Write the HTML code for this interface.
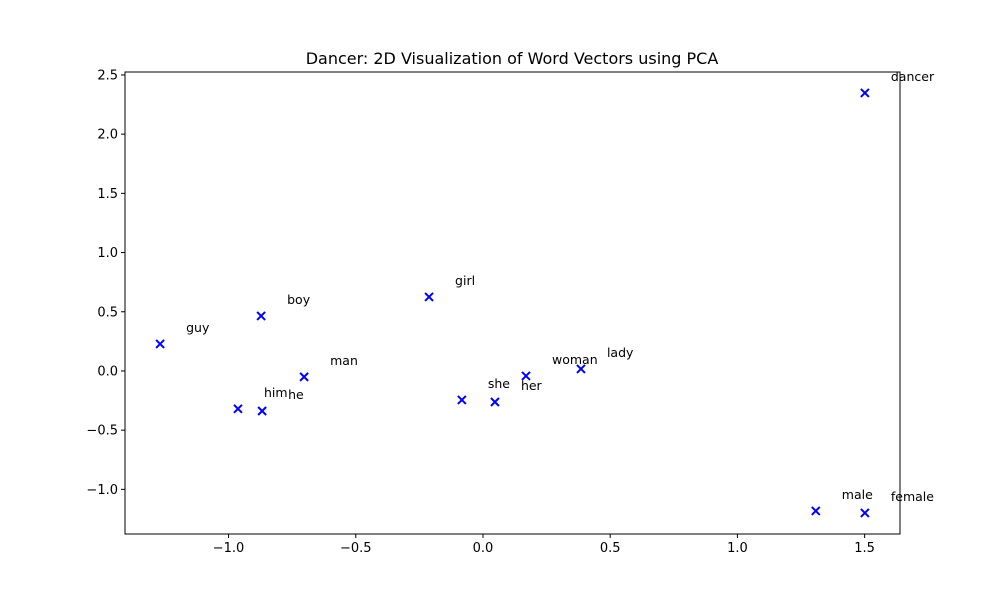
<!DOCTYPE html>
<html><head><meta charset="utf-8"><style>body{margin:0;background:#fff}svg{display:block}text{font-family:"DejaVu Sans","Liberation Sans",sans-serif}</style></head>
<body>
<svg id="chart" width="1000" height="600" xmlns="http://www.w3.org/2000/svg">
<text x="512" y="64" text-anchor="middle" font-size="16">Dancer: 2D Visualization of Word Vectors using PCA</text>
<rect x="125" y="72" width="775" height="462" fill="none" stroke="#000" stroke-width="1"/>
<g id="xaxis"></g>
<g id="yaxis"></g>
<g id="points"></g>
</svg>
<script>
const words = ["guy","boy","man","girl","him","he","she","her","woman","lady","dancer","male","female"];
const xValues = [-1.269,-0.872,-0.703,-0.212,-0.963,-0.868,-0.083,0.047,0.169,0.385,1.501,1.308,1.501];
const yValues = [0.228,0.465,-0.05,0.625,-0.32,-0.338,-0.245,-0.262,-0.042,0.017,2.348,-1.182,-1.199];
const xTicks = [-1.0,-0.5,0.0,0.5,1.0,1.5];
const xTickLabels = ["\u22121.0","\u22120.5","0.0","0.5","1.0","1.5"];
const yTicks = [-1.0,-0.5,0.0,0.5,1.0,1.5,2.0,2.5];
const yTickLabels = ["\u22121.0","\u22120.5","0.0","0.5","1.0","1.5","2.0","2.5"];
const X0=125,X1=900,Y0=72,Y1=534, xmin=-1.407,xmax=1.639,ymin=-1.377,ymax=2.525;
const sx=v=>X0+(v-xmin)/(xmax-xmin)*(X1-X0);
const sy=v=>Y1-(v-ymin)/(ymax-ymin)*(Y1-Y0);
const NS="http://www.w3.org/2000/svg";
function mk(tag,attrs,parent){const e=document.createElementNS(NS,tag);for(const k in attrs)e.setAttribute(k,attrs[k]);parent.appendChild(e);return e;}
const xa=document.getElementById('xaxis'),ya=document.getElementById('yaxis'),pg=document.getElementById('points');
xTicks.forEach((t,i)=>{const x=sx(t);
 const l=mk('line',{x1:x,x2:x,y1:Y1,y2:Y1+4,stroke:'#000'},xa);
 
 
 const tx=mk('text',{x:x,y:Y1+18,'text-anchor':'middle','font-size':'13'},xa);tx.textContent=xTickLabels[i];
 
 });
yTicks.forEach((t,i)=>{const y=sy(t);
 const l=mk('line',{x1:X0-4,x2:X0,y1:y,y2:y,stroke:'#000'},ya);
 
 
 const tx=mk('text',{x:X0-7,y:y+4.5,'text-anchor':'end','font-size':'13'},ya);tx.textContent=yTickLabels[i];
 
 });
words.forEach((w,i)=>{const x=sx(xValues[i]),y=sy(yValues[i]);
 const g=mk('g',{},pg);
 
 
 mk('path',{d:`M${x-4},${y-4}L${x+4},${y+4}M${x-4},${y+4}L${x+4},${y-4}`,stroke:'#0000ff','stroke-width':'2'},g);
 const tx=mk('text',{x:x+26,y:y-12,'font-size':'12.5'},g);tx.textContent=w;
 
 });
</script>
</body></html>
